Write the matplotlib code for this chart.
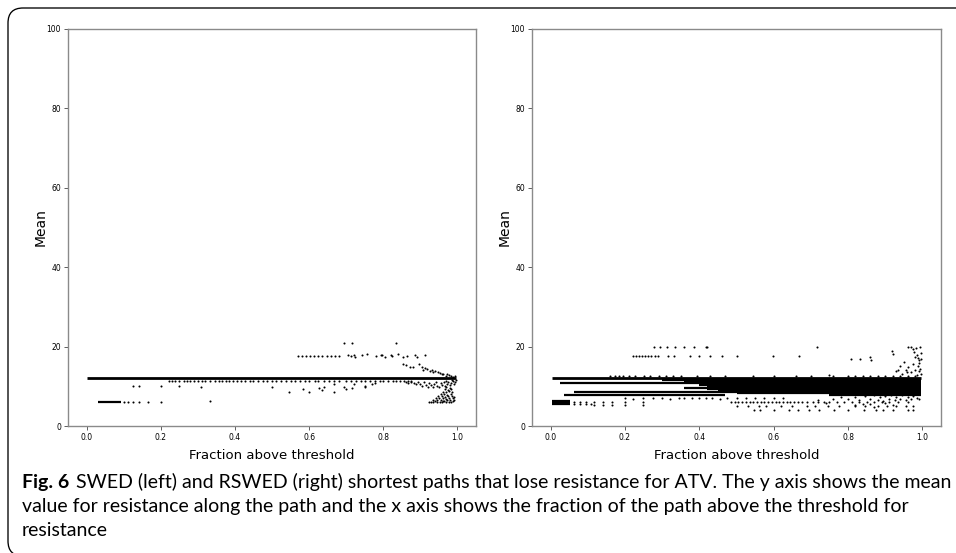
import matplotlib
matplotlib.use("Agg")
import matplotlib.pyplot as plt
import numpy as np
from matplotlib.patches import FancyBboxPatch
from matplotlib.transforms import IdentityTransform

W, H = 956, 553

# dense runs of paths sharing one mean value: (mean, first fraction, last fraction)
swed_rows = [
    (12.0, 0.002, 0.997),
    (6.1, 0.030, 0.092),
]
rswed_rows = [
    (12.0, 0.003, 0.995),
    (11.6, 0.300, 0.995),
    (11.2, 0.360, 0.995),
    (10.8, 0.026, 0.995),
    (10.4, 0.400, 0.995),
    (10.0, 0.420, 0.995),
    (9.6, 0.360, 0.995),
    (9.2, 0.420, 0.995),
    (8.9, 0.450, 0.995),
    (8.6, 0.063, 0.995),
    (8.2, 0.500, 0.995),
    (7.7, 0.036, 0.470),
    (7.8, 0.750, 0.995),
    (6.3, 0.003, 0.052),
    (5.9, 0.003, 0.052),
    (5.5, 0.003, 0.052),
]

# SWED single paths
swed_band_x = [0.222, 0.230, 0.238, 0.250, 0.262, 0.270, 0.280, 0.290, 0.300, 0.312,
               0.320, 0.333, 0.345, 0.357, 0.365, 0.375, 0.385, 0.395, 0.406, 0.417,
               0.428, 0.440, 0.450, 0.462, 0.475, 0.487, 0.500, 0.512, 0.525, 0.538,
               0.550, 0.562, 0.575, 0.588, 0.600, 0.615, 0.625, 0.640, 0.655, 0.667,
               0.680, 0.700, 0.714, 0.727, 0.740, 0.750, 0.765, 0.778, 0.790, 0.800,
               0.812, 0.825, 0.833, 0.845, 0.857, 0.867, 0.875]
swed_band_y = 11.4
swed_pts = [
    (0.100, 6.1), (0.111, 6.1), (0.124, 6.1), (0.142, 6.1), (0.167, 6.1), (0.200, 6.1), (0.333, 6.2),
    (0.124, 10.1), (0.142, 10.1), (0.200, 10.1), (0.249, 10.0), (0.308, 9.8), (0.500, 9.9),
    (0.545, 8.6), (0.583, 9.2), (0.600, 8.6), (0.626, 9.6), (0.636, 9.1), (0.640, 9.8),
    (0.666, 8.6), (0.668, 10.6), (0.693, 9.7), (0.700, 9.2), (0.715, 9.6), (0.722, 10.7),
    (0.750, 9.7), (0.751, 10.2), (0.770, 10.6), (0.779, 10.8),
    (0.569, 17.6), (0.580, 17.6), (0.591, 17.6), (0.602, 17.6), (0.613, 17.6), (0.625, 17.6),
    (0.636, 17.6), (0.647, 17.6), (0.658, 17.6), (0.669, 17.6), (0.680, 17.6),
    (0.705, 18.0), (0.712, 17.6), (0.720, 17.8), (0.725, 17.4), (0.742, 17.8), (0.757, 18.2),
    (0.780, 17.6), (0.793, 17.8), (0.797, 18.0), (0.806, 17.4), (0.820, 17.8), (0.824, 17.6),
    (0.839, 18.1), (0.852, 17.4), (0.864, 17.6), (0.886, 17.8), (0.891, 17.4), (0.912, 18.0),
    (0.694, 20.8), (0.715, 20.8), (0.833, 20.8),
    (0.853, 15.6), (0.861, 15.3), (0.873, 14.9), (0.879, 14.8), (0.897, 15.6), (0.904, 14.9),
    (0.912, 14.5), (0.918, 14.3), (0.927, 13.9), (0.931, 14.1), (0.940, 13.8), (0.947, 13.6),
    (0.953, 13.4), (0.962, 13.2), (0.971, 13.0), (0.976, 12.8), (0.983, 12.6), (0.989, 12.4),
    (0.906, 14.0), (0.935, 13.5), (0.958, 13.0), (0.968, 12.7), (0.993, 12.6),
    (0.860, 11.0), (0.868, 10.8), (0.875, 11.2), (0.882, 10.9), (0.889, 10.5), (0.893, 11.1),
    (0.900, 10.7), (0.905, 10.2), (0.911, 11.0), (0.916, 10.4), (0.920, 9.8), (0.924, 10.9),
    (0.929, 10.3), (0.933, 9.9), (0.938, 10.6), (0.942, 11.1), (0.946, 10.1), (0.950, 9.7),
    (0.955, 10.8), (0.959, 10.4), (0.963, 11.2), (0.967, 10.0), (0.971, 10.7), (0.975, 11.0),
    (0.979, 10.3), (0.983, 10.9), (0.987, 11.3), (0.990, 10.6), (0.993, 11.0), (0.996, 11.5),
    (0.985, 11.5), (0.970, 11.4),
    (0.922, 6.0), (0.928, 6.1), (0.934, 6.0), (0.940, 6.2), (0.946, 6.0), (0.952, 6.1),
    (0.958, 6.0), (0.964, 6.2), (0.970, 6.0), (0.976, 6.1), (0.982, 6.0), (0.988, 6.2),
    (0.935, 6.5), (0.945, 6.6), (0.955, 6.5), (0.962, 6.4), (0.972, 6.6), (0.980, 6.5), (0.990, 6.6),
    (0.942, 7.0), (0.950, 7.1), (0.960, 7.0), (0.968, 6.9), (0.978, 7.1), (0.988, 7.0),
    (0.948, 7.5), (0.957, 7.6), (0.966, 7.4), (0.975, 7.5), (0.985, 7.6), (0.990, 7.4),
    (0.955, 8.0), (0.963, 8.1), (0.972, 7.9), (0.982, 8.0),
    (0.960, 8.6), (0.968, 8.5), (0.978, 8.7), (0.986, 8.6),
    (0.966, 9.2), (0.975, 9.1), (0.983, 9.3), (0.970, 9.7), (0.980, 9.6),
]

# RSWED single paths
rswed_pts = [
    (0.278, 20.0), (0.294, 20.0), (0.313, 20.0), (0.334, 20.0), (0.358, 20.0), (0.385, 20.0),
    (0.418, 20.0), (0.420, 20.0), (0.716, 20.0), (0.962, 20.0), (0.982, 19.6),
    (0.221, 17.6), (0.229, 17.6), (0.237, 17.6), (0.245, 17.6), (0.253, 17.6), (0.261, 17.6),
    (0.270, 17.6), (0.280, 17.6), (0.289, 17.6), (0.317, 17.6), (0.333, 17.6), (0.376, 17.6),
    (0.400, 17.6), (0.429, 17.6), (0.462, 17.6), (0.500, 17.6), (0.599, 17.6), (0.667, 17.6),
    (0.807, 17.0), (0.833, 17.0), (0.859, 17.4), (0.863, 16.7), (0.980, 17.5),
    (0.917, 19.0), (0.922, 18.2), (0.970, 20.0), (0.975, 19.4), (0.978, 18.6), (0.985, 18.0),
    (0.987, 17.2), (0.990, 16.5), (0.992, 15.8), (0.988, 15.0), (0.993, 14.4), (0.990, 13.8),
    (0.995, 13.2), (0.985, 12.8), (0.941, 15.0), (0.950, 16.0), (0.955, 14.2), (0.962, 14.8),
    (0.968, 13.6), (0.930, 13.8), (0.935, 14.2), (0.945, 13.2), (0.958, 13.5), (0.975, 15.5),
    (0.980, 14.0), (0.995, 16.8), (0.996, 18.4), (0.994, 19.8),
    (0.160, 12.6), (0.172, 12.6), (0.185, 12.6), (0.196, 12.6), (0.210, 12.6), (0.228, 12.5),
    (0.250, 12.6), (0.268, 12.5), (0.291, 12.6), (0.310, 12.5), (0.330, 12.6), (0.350, 12.5),
    (0.395, 12.6), (0.428, 12.6), (0.470, 12.5), (0.545, 12.5), (0.600, 12.5), (0.660, 12.5),
    (0.700, 12.5), (0.750, 12.8), (0.760, 12.6), (0.800, 12.5), (0.820, 12.6),
    (0.840, 12.5), (0.860, 12.6), (0.880, 12.5), (0.900, 12.6), (0.920, 12.5),
    (0.940, 12.6), (0.960, 12.5), (0.980, 12.6),
    (0.064, 5.5), (0.064, 6.0), (0.078, 5.5), (0.078, 6.0), (0.096, 5.5), (0.096, 6.0),
    (0.118, 5.4), (0.118, 6.0), (0.142, 5.4), (0.142, 6.0), (0.166, 5.4), (0.166, 6.0),
    (0.199, 5.4), (0.199, 6.0), (0.249, 5.4), (0.249, 6.0), (0.110, 5.5),
    (0.199, 7.0), (0.222, 6.9), (0.249, 7.0), (0.275, 7.1), (0.300, 7.0), (0.320, 6.9),
    (0.345, 7.0), (0.360, 7.1), (0.380, 7.0), (0.400, 7.0), (0.418, 7.1), (0.435, 7.0),
    (0.455, 6.9), (0.475, 7.0), (0.500, 7.0), (0.525, 7.0), (0.550, 7.0), (0.575, 7.0),
    (0.600, 7.0), (0.625, 7.0),
    (0.485, 6.0), (0.495, 6.0), (0.505, 6.0), (0.515, 6.0), (0.525, 6.0), (0.535, 6.0),
    (0.545, 6.0), (0.555, 6.0), (0.565, 6.0), (0.575, 6.0), (0.585, 6.0), (0.595, 6.0),
    (0.605, 6.0), (0.615, 6.0), (0.625, 6.0), (0.635, 6.0), (0.645, 6.0), (0.655, 6.0),
    (0.665, 6.0), (0.675, 6.0), (0.690, 6.0), (0.705, 6.0), (0.720, 6.0), (0.735, 6.0),
    (0.750, 6.0), (0.770, 6.0), (0.790, 6.0), (0.810, 6.0), (0.830, 6.0), (0.850, 6.0),
    (0.870, 6.0), (0.890, 6.0), (0.910, 6.0), (0.935, 6.0), (0.960, 6.0),
    (0.500, 5.1), (0.530, 5.1), (0.560, 5.1), (0.580, 5.1), (0.620, 5.1), (0.650, 5.1),
    (0.690, 5.1), (0.710, 5.1), (0.745, 5.1), (0.775, 5.1), (0.820, 5.1), (0.845, 5.1),
    (0.880, 5.1), (0.905, 5.1), (0.930, 5.1), (0.955, 5.1), (0.975, 5.1),
    (0.548, 4.0), (0.564, 4.0), (0.601, 4.0), (0.642, 4.0), (0.666, 4.0), (0.696, 4.0),
    (0.722, 4.0), (0.763, 4.0), (0.801, 4.0), (0.842, 4.0), (0.875, 4.0), (0.893, 4.0),
    (0.920, 4.0), (0.962, 4.0), (0.974, 4.0),
    (0.800, 6.8), (0.820, 7.2), (0.830, 6.5), (0.845, 7.5), (0.860, 6.9), (0.870, 7.8),
    (0.880, 6.6), (0.885, 7.3), (0.895, 6.4), (0.900, 7.6), (0.910, 6.9), (0.915, 7.9),
    (0.925, 6.5), (0.930, 7.3), (0.940, 6.8), (0.945, 7.7), (0.955, 6.6), (0.960, 7.2),
    (0.970, 6.9), (0.975, 7.5), (0.985, 7.0), (0.990, 6.7), (0.780, 7.3), (0.760, 6.7),
    (0.740, 5.8), (0.720, 6.5), (0.860, 5.5), (0.870, 4.8), (0.840, 5.6), (0.820, 5.3),
    (0.900, 5.8), (0.920, 5.3),
]

xticks = [0.0, 0.2, 0.4, 0.6, 0.8, 1.0]
yticks = [0, 20, 40, 60, 80, 100]


def px_box(x0, x1, y_top, y_bot):
    # pixel box (from top-left) -> figure fraction rect
    return [x0 / W, 1 - y_bot / H, (x1 - x0) / W, (y_bot - y_top) / H]


def draw_panel(ax, rows, pts, extra_x=None, extra_y=None):
    for y, xa, xb in rows:
        lw = 2.0 if y == 12.0 else 1.6
        ax.hlines(y, xa, xb, colors='black', linewidth=lw)
    p = np.array(pts)
    ax.scatter(p[:, 0], p[:, 1], s=2.2, c='black', linewidths=0)
    if extra_x is not None:
        ax.scatter(extra_x, [extra_y] * len(extra_x), s=2.2, c='black', linewidths=0)
    ax.set_xlim(-0.05, 1.05)
    ax.set_ylim(0, 100)
    ax.set_xticks(xticks)
    ax.set_xticklabels(['%.1f' % v for v in xticks])
    ax.set_yticks(yticks)
    ax.tick_params(labelsize=5.5, length=3, width=0.6, color='#444444', pad=2)
    for s in ax.spines.values():
        s.set_color('#8a8a8a')
        s.set_linewidth(1.0)
    ax.set_xlabel('Fraction above threshold', fontsize=9.5, labelpad=5)
    ax.set_ylabel('Mean', fontsize=10, labelpad=-1)


fig = plt.figure(figsize=(W / 100, H / 100), dpi=100)

ax1 = fig.add_axes(px_box(68, 476, 29, 426))
draw_panel(ax1, swed_rows, swed_pts, swed_band_x, swed_band_y)

ax2 = fig.add_axes(px_box(532, 941, 29, 426))
draw_panel(ax2, rswed_rows, rswed_pts)

# rounded frame around figure and caption
frame = FancyBboxPatch((8, H - 556), 1200, 548, boxstyle='round,pad=0,rounding_size=15',
                       transform=IdentityTransform(), fill=False, edgecolor='black',
                       linewidth=0.95)
fig.patches.append(frame)

# caption
cap_font = ['Lato', 'DejaVu Sans']
line1 = 'SWED (left) and RSWED (right) shortest paths that lose resistance for ATV. The y axis shows the mean'
line2 = 'value for resistance along the path and the x axis shows the fraction of the path above the threshold for'
line3 = 'resistance'
left_px = 22
base_px = [488, 512, 536]

t_bold = fig.text(left_px / W, 1 - base_px[0] / H, 'Fig. 6', fontweight='bold',
                  family=cap_font, fontsize=12, va='baseline')
t1 = fig.text(0, 1 - base_px[0] / H, line1, family=cap_font, fontsize=12, va='baseline')
fig.canvas.draw()
r = fig.canvas.get_renderer()
wb = t_bold.get_window_extent(r).width
gap = 7
w1 = t1.get_window_extent(r).width
scale = (946 - left_px - gap) / (wb + w1)
fs = 12 * scale
t_bold.set_fontsize(fs)
t1.set_fontsize(fs)
fig.canvas.draw()
wb = t_bold.get_window_extent(r).width
t1.set_x((left_px + wb + gap) / W)
fig.text(left_px / W, 1 - base_px[1] / H, line2, family=cap_font, fontsize=fs, va='baseline')
fig.text(left_px / W, 1 - base_px[2] / H, line3, family=cap_font, fontsize=fs, va='baseline')

fig.savefig('out.png', dpi=100)
